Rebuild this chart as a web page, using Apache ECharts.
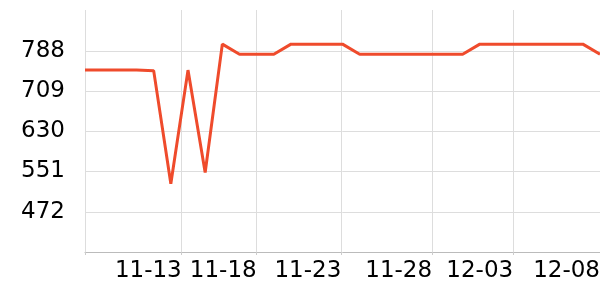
<!DOCTYPE html>
<html>
<head>
<meta charset="utf-8">
<script src="https://cdn.jsdelivr.net/npm/echarts@6/dist/echarts.min.js"></script>
<style>
html,body{margin:0;padding:0;background:#fff;}
#chart{width:600px;height:300px;}
</style>
</head>
<body>
<div id="chart"></div>
<script>
// Dates (daily), 2024-11-08 .. 2024-12-08
const dates = [
  '2024-11-08','2024-11-09','2024-11-10','2024-11-11','2024-11-12','2024-11-13','2024-11-14',
  '2024-11-15','2024-11-16','2024-11-17','2024-11-18','2024-11-19','2024-11-20','2024-11-21',
  '2024-11-22','2024-11-23','2024-11-24','2024-11-25','2024-11-26','2024-11-27','2024-11-28',
  '2024-11-29','2024-11-30','2024-12-01','2024-12-02','2024-12-03','2024-12-04','2024-12-05',
  '2024-12-06','2024-12-07','2024-12-08'
];
const values = [
  750, 750, 750, 750, 749, 527, 750,
  549, 801, 781, 781, 781, 801, 801,
  801, 801, 781, 781, 781, 781, 781,
  781, 781, 801, 801, 801, 801, 801,
  801, 801, 781
];
// X tick positions and their labels
const xTickTimes = ['2024-11-13 15:14','2024-11-18 00:00','2024-11-22 22:20','2024-11-28 05:16','2024-12-02 22:35','2024-12-08 00:00'];
const xTickLabels = ['11-13','11-18','11-23','11-28','12-03','12-08'];
// Y tick values
const yTicks = [472, 551, 630, 709, 788];
const yMin = 393, yMax = 868;

const DAY = 86400000;
function toTime(s){
  const iso = s.length === 10 ? s + 'T00:00:00Z' : s.replace(' ', 'T') + ':00Z';
  return Date.parse(iso);
}
const startT = toTime(dates[0]);
const dayPos = t => (toTime(t) - startT) / DAY;
const xTickVals = xTickTimes.map(dayPos);
const xMax = dayPos(dates[dates.length - 1]);

const chart = echarts.init(document.getElementById('chart'), null, {renderer: 'canvas'});
chart.setOption({
  animation: false,
  backgroundColor: '#ffffff',
  grid: {left: 85, right: 0, top: 10, bottom: 48, containLabel: false, outerBoundsMode: 'none'},
  xAxis: {
    type: 'value',
    min: 0,
    max: xMax,
    axisLine: {show: true, lineStyle: {color: '#bbbbbb', width: 1}},
    axisTick: {show: true, length: 3, lineStyle: {color: '#cccccc'}, customValues: [0].concat(xTickVals)},
    splitLine: {show: true, lineStyle: {color: '#dddddd', width: 1}},
    axisLabel: {
      customValues: xTickVals,
      align: 'right',
      margin: 8,
      color: '#000000',
      fontSize: 23,
      fontFamily: 'DejaVu Sans',
      hideOverlap: false,
      formatter: function (v) {
        let best = 0, bd = Infinity;
        xTickVals.forEach((t, i) => { const d = Math.abs(t - v); if (d < bd) { bd = d; best = i; } });
        return xTickLabels[best];
      }
    }
  },
  yAxis: {
    type: 'value',
    min: yMin,
    max: yMax,
    axisLine: {show: false},
    axisTick: {show: false, customValues: yTicks},
    splitLine: {show: true, lineStyle: {color: '#dddddd', width: 1}},
    axisLabel: {
      customValues: yTicks,
      margin: 20,
      color: '#000000',
      fontSize: 23,
      fontFamily: 'DejaVu Sans'
    }
  },
  series: [{
    type: 'line',
    data: dates.map((d, i) => [dayPos(d), values[i]]),
    showSymbol: false,
    symbol: 'none',
    lineStyle: {color: '#ef4b2c', width: 3},
    itemStyle: {color: '#ef4b2c'}
  }]
});
</script>
</body>
</html>
